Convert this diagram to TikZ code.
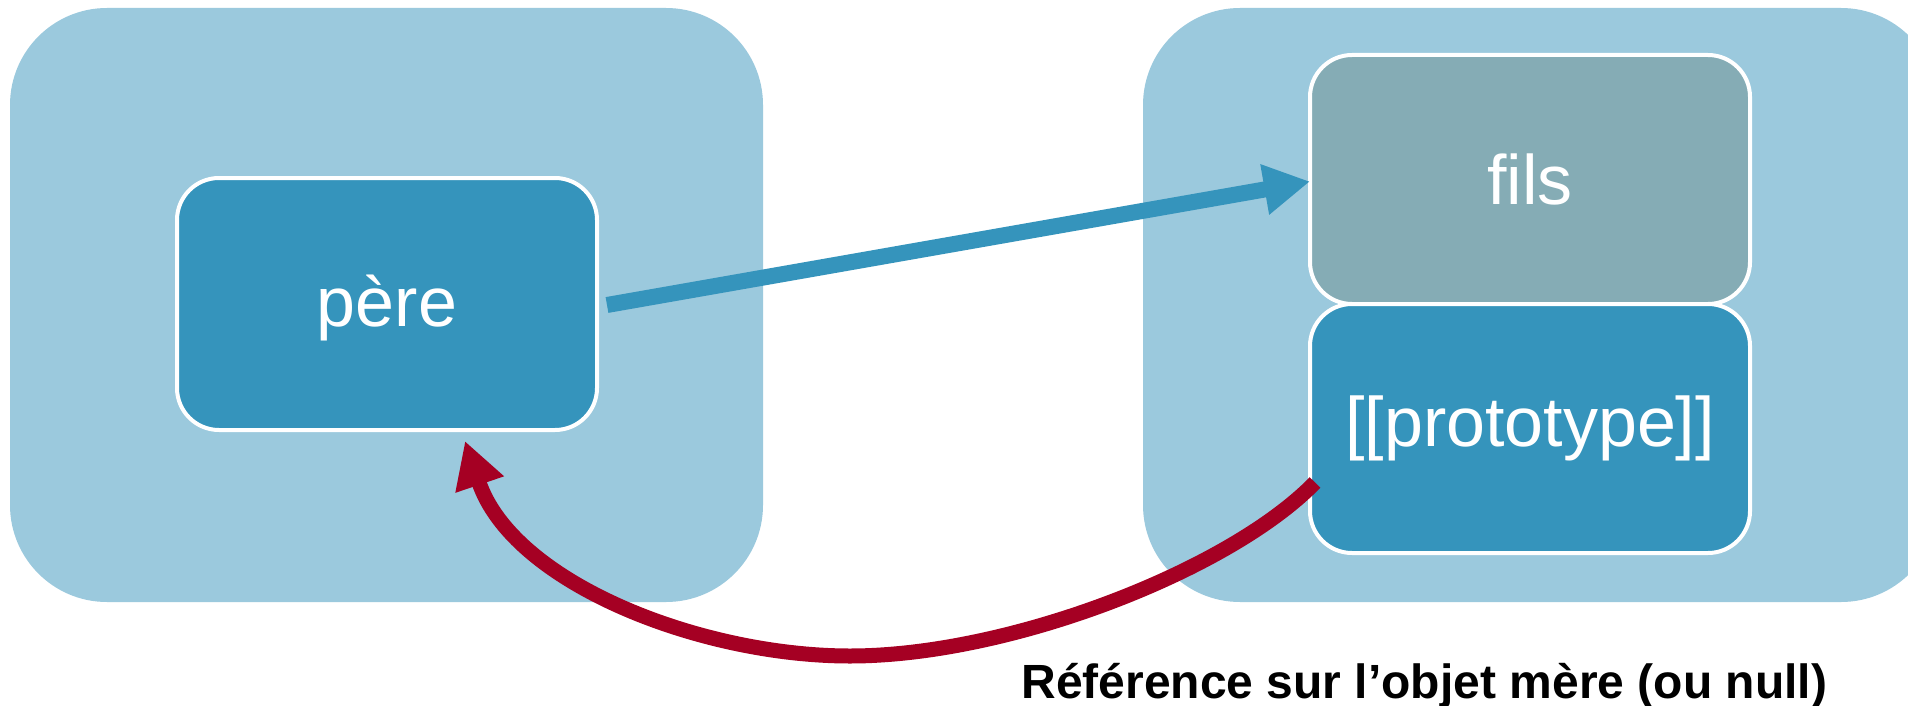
\documentclass[tikz,border=0pt]{standalone}
\usepackage{fontspec}
\setmainfont{Liberation Sans}
\usetikzlibrary{arrows.meta}
\usetikzlibrary{positioning}

\definecolor{frameblue}{RGB}{155,201,221}
\definecolor{objblue}{RGB}{53,148,188}
\definecolor{protogray}{RGB}{133,172,181}
\definecolor{linkred}{RGB}{165,0,35}

\begin{document}
\begin{tikzpicture}[
    x=1pt, y=-1pt,
    frame/.style={rectangle, rounded corners=97, fill=frameblue, inner sep=0,
      minimum height=594},
    object/.style={rectangle, rounded corners=42, draw=white, line width=4,
      fill=objblue, text=white, inner sep=0, outer sep=0,
      minimum width=440, minimum height=249, font=\fontsize{70}{84}\selectfont},
    arrow/.style={line width=16, -{Triangle[length=46pt, width=48pt]}},
    link/.style={arrow, draw=objblue},
    protolink/.style={arrow, line width=15, draw=linkred}
  ]
  \useasboundingbox (0,0) rectangle (1908,706);
  \fill[white] (0,0) rectangle (1908,706);
  \clip (0,0) rectangle (1908,706);

  % the two objects
  \node[frame, minimum width=753] (parentbox) at (386.5,305) {};
  \node[frame, minimum width=795] (childbox) at (1540.5,305) {};

  \node[object, minimum width=420, minimum height=252, text height=60] (pere)
    at (387,304) {père};
  \node[object, fill=protogray] (fils) at (1530,179.5) {fils};
  \node[object, below=0pt of fils] (proto) {[[prototype]]};

  % links
  \draw[link] ([shift={(10,1)}]pere.east) -- ([shift={(0,2)}]fils.west);
  \draw[protolink] ([shift={(5,54)}]proto.west)
    .. controls (1230,570) and (1010,656) .. (850,656)
    .. controls (700,656) and (513,583) .. ([shift={(78,11)}]pere.south);

  \node[anchor=base west, font=\bfseries\fontsize{48}{58}\selectfont] (note)
    at (1018,698) {Référence sur l’objet mère (ou null)};
\end{tikzpicture}
\end{document}
